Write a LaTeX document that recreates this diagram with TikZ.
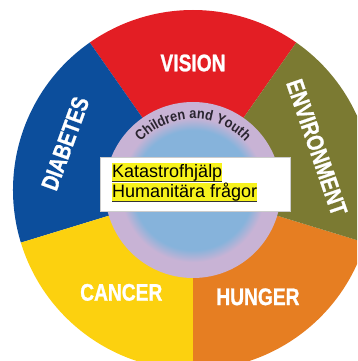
\documentclass[tikz,border=0pt]{standalone}
\usepackage{fontspec}
\setmainfont{Liberation Sans}
\newfontfamily\Segmentfont[FakeStretch=0.8, FakeBold=1]{Liberation Sans}
\newfontfamily\Ringfont[FakeStretch=0.88]{Liberation Sans}
\usepackage{xcolor}
\usepackage{tikz}
\usetikzlibrary{decorations.text}
\definecolor{Rot}{HTML}{E31E24}
\definecolor{Blau}{HTML}{0C4E9C}
\definecolor{Gelb}{HTML}{FCD10F}
\definecolor{Orange}{HTML}{E67E22}
\definecolor{Oliv}{HTML}{7B7A32}
\definecolor{Lavendel}{HTML}{C8B3D5}
\definecolor{Hellblau}{HTML}{86B3DB}
\definecolor{Ringtext}{HTML}{2A2530}
\definecolor{Textmarker}{HTML}{F7F21C}
\definecolor{Rahmen}{HTML}{CCCCCC}
\pgfdeclareradialshading{Ring}{\pgfpoint{0bp}{0bp}}{%
  color(0bp)=(Hellblau); color(17bp)=(Hellblau);
  color(20.5bp)=(Lavendel); color(25bp)=(Lavendel); color(50bp)=(Lavendel)}
\tikzset{
  Titel/.style={text=white, inner sep=0pt,
    font=\Segmentfont\bfseries\fontsize{24}{24}\selectfont}, % Segmentnamen
  Kasten/.style={draw=Rahmen, fill=white, inner sep=0pt,
    minimum width=190pt, minimum height=54pt}, % weisses Textfeld
  Marker/.style={fill=Textmarker, inner sep=0pt, text height=14.5pt,
    text depth=4pt, font=\fontsize{18}{20}\selectfont}, % markierter Text
  Strich/.style={line width=1.1pt, black!80} % Unterstreichung
}

\begin{document}
\begin{tikzpicture}[x=1pt, y=1pt]
\useasboundingbox (0,0) rectangle (357,361);
\clip (0,0) rectangle (357,361);
\coordinate (M) at (193,171);

%Segmente
\foreach \a/\b/\farbe in {55/125/Rot, 125/197/Blau, 197/270/Gelb,
                          270/343/Orange, 343/415/Oliv}
  \fill[\farbe] (M) -- ([shift={(\a:180pt)}]M)
    arc[start angle=\a, end angle=\b, radius=180pt] -- cycle;

%Innerer Kreis
\shade[shading=Ring] (M) circle[radius=88pt];

%Ringtext
\path[decorate, decoration={text along path, text align=center,
  text color=Ringtext,
  text={|\Ringfont\bfseries\fontsize{14.5}{15}\selectfont|Children and Youth}}]
  ([shift={(160:71pt)}]M) arc[start angle=160, end angle=20, radius=71pt];

%Beschriftungen
\node[Titel] (Vision) at ([shift={(90:127pt)}]M) {VISION};
\node[Titel, rotate=70] (Diabetes) at ([shift={(160:136pt)}]M) {DIABETES};
\node[Titel, rotate=-71] (Environment) at ([shift={(19:131pt)}]M) {ENVIRONMENT};
\node[Titel] (Cancer) at ([shift={(235:125pt)}]M) {CANCER};
\node[Titel] (Hunger) at ([shift={(-58.7:125pt)}]M) {HUNGER};

%Textfeld
\node[Kasten, anchor=south west] (Box) at (100,150) {};
\node[Marker, anchor=base west] (Kat) at (112,183) {Katastrofhjälp};
\node[Marker, anchor=base west] (Hum) at (112,163) {Humanitära frågor};
\draw[Strich] ([yshift=0.6pt]Kat.south west) -- ([yshift=0.6pt]Kat.south east);
\draw[Strich] ([yshift=0.6pt]Hum.south west) -- ([yshift=0.6pt]Hum.south east);
\end{tikzpicture}
\end{document}
